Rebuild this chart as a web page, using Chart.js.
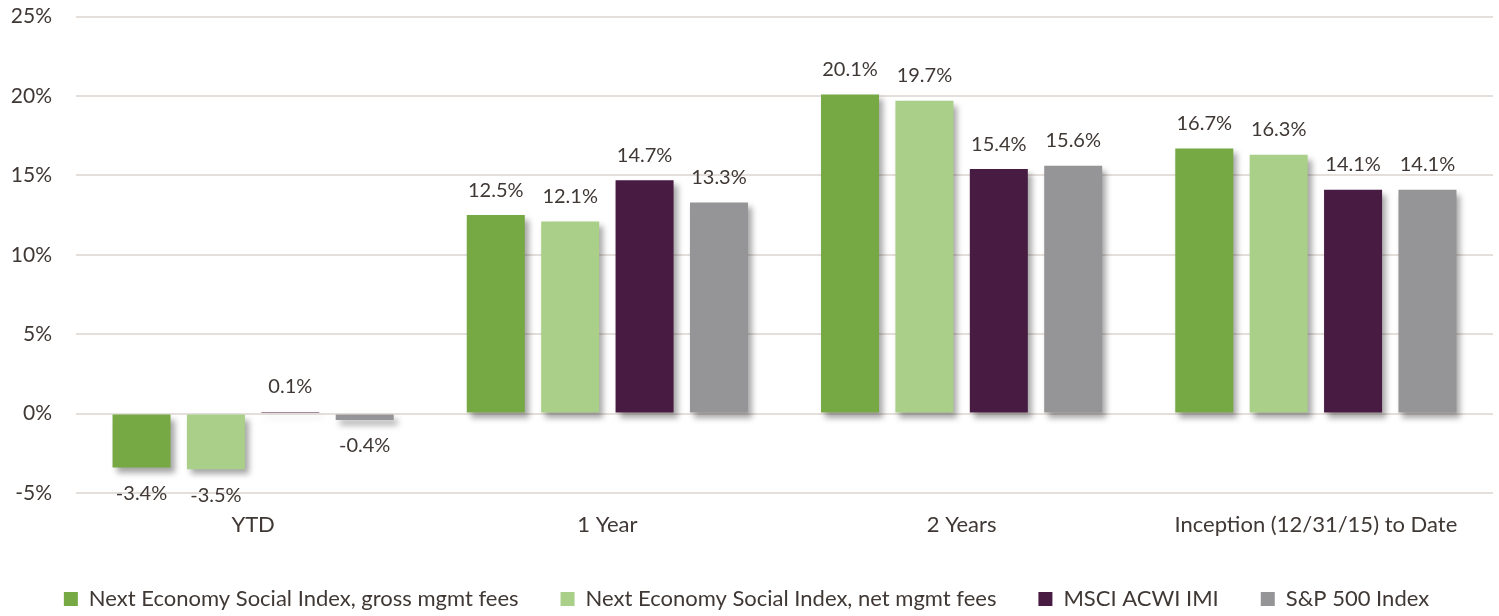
<!DOCTYPE html>
<html>
<head>
<meta charset="utf-8">
<script src="https://cdn.jsdelivr.net/npm/chart.js@4/dist/chart.umd.min.js"></script>
<style>
  html, body { margin: 0; padding: 0; background: #ffffff; }
  #wrap { width: 1499px; height: 616px; position: relative; }
</style>
</head>
<body>
<div id="wrap"><canvas id="c" width="1499" height="616"></canvas></div>
<script>
const categories = ["YTD", "1 Year", "2 Years", "Inception (12/31/15) to Date"];
const seriesNames = [
  "Next Economy Social Index, gross mgmt fees",
  "Next Economy Social Index, net mgmt fees",
  "MSCI ACWI IMI",
  "S&P 500 Index"
];
const grossFees = [-3.4, 12.5, 20.1, 16.7];
const netFees = [-3.5, 12.1, 19.7, 16.3];
const msciAcwiImi = [0.1, 14.7, 15.4, 14.1];
const sp500 = [-0.4, 13.3, 15.6, 14.1];
const yTicks = [-5, 0, 5, 10, 15, 20, 25];

const colors = ["#76a844", "#a9cf88", "#481b42", "#959597"];
const textColor = "#3f3834";
const FONT = "Lato, 'Noto Sans', sans-serif";

const shadowPlugin = {
  id: "barShadow",
  beforeDatasetsDraw(chart) {
    const ctx = chart.ctx;
    ctx.save();
    ctx.shadowColor = "rgba(0,0,0,0.35)";
    ctx.shadowBlur = 6;
    ctx.shadowOffsetX = 4;
    ctx.shadowOffsetY = 5;
  },
  afterDatasetsDraw(chart) {
    const ctx = chart.ctx;
    ctx.restore();
    ctx.save();
    ctx.font = "20px " + FONT;
    ctx.fillStyle = textColor;
    ctx.textAlign = "center";
    ctx.textBaseline = "middle";
    chart.data.datasets.forEach((ds, di) => {
      const meta = chart.getDatasetMeta(di);
      meta.data.forEach((bar, i) => {
        const v = ds.data[i];
        const txt = v.toFixed(1) + "%";
        const y = v >= 0 ? bar.y - 25 : bar.y + 26;
        ctx.fillText(txt, bar.x, y);
      });
    });
    ctx.restore();
  }
};

const datasets = [grossFees, netFees, msciAcwiImi, sp500].map((d, i) => ({
  label: seriesNames[i],
  data: d,
  backgroundColor: colors[i],
  borderWidth: 0,
  categoryPercentage: 0.84,
  barPercentage: 0.78
}));

new Chart(document.getElementById("c"), {
  type: "bar",
  data: { labels: categories, datasets },
  plugins: [shadowPlugin],
  options: {
    responsive: false,
    animation: false,
    layout: { padding: { top: 5.4, right: 6, bottom: 0, left: 0 } },
    plugins: {
      tooltip: { enabled: false },
      legend: {
        position: "bottom",
        maxHeight: 70,
        labels: {
          color: textColor,
          font: { family: FONT, size: 22 },
          boxWidth: 14,
          boxHeight: 14,
          padding: 42
        }
      }
    },
    scales: {
      x: {
        afterFit(scale) { scale.height = 53; },
        grid: { display: false, drawTicks: false },
        border: { display: false },
        ticks: { color: textColor, font: { family: FONT, size: 22 }, padding: 19 }
      },
      y: {
        min: -5,
        max: 25,
        afterFit(scale) { scale.width = 76; },
        afterBuildTicks(scale) { scale.ticks = yTicks.map(v => ({ value: v })); },
        grid: { color: "#e5dfdc", lineWidth: 2, drawTicks: true, tickLength: 20, tickColor: "rgba(0,0,0,0)" },
        border: { display: false },
        ticks: {
          color: textColor,
          font: { family: FONT, size: 21 },
          padding: 4,
          callback: v => v + "%"
        }
      }
    }
  }
});
</script>
</body>
</html>
